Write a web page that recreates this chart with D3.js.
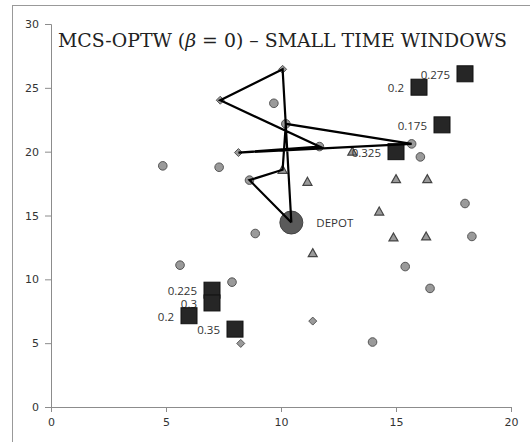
<!DOCTYPE html>
<html>
<head>
<script src="https://d3js.org/d3.v7.min.js"></script>
<style>
body { margin: 0; background: #fff; }
svg { display: block; }
</style>
</head>
<body>
<script>
// customers by marker type
var circleX = [4.86, 7.31, 9.69, 10.21, 11.67, 8.63, 15.68, 16.06, 8.88, 5.61, 7.87, 18.0, 18.3, 15.4, 16.48, 13.98];
var circleY = [18.89, 18.78, 23.79, 22.18, 20.4, 17.77, 20.61, 19.59, 13.59, 11.11, 9.78, 15.94, 13.36, 11.0, 9.29, 5.09];
var triX = [10.07, 11.15, 15.0, 16.36, 14.27, 14.89, 16.31, 11.38, 13.1];
var triY = [18.58, 17.64, 17.85, 17.85, 15.31, 13.28, 13.36, 12.05, 20.0];
var diaX = [10.07, 7.36, 8.15, 11.38, 8.25];
var diaY = [26.45, 24.03, 19.93, 6.73, 4.98];
var sqX = [18, 16, 17, 15, 7, 7, 6, 8];
var sqY = [26.1, 25.05, 22.1, 20, 9.15, 8.15, 7.15, 6.1];
var sqLabels = ["0.275", "0.2", "0.175", "0.325", "0.225", "0.3", "0.2", "0.35"];
var depot = [10.45, 14.45];
// route order
var routeX = [10.45, 10.07, 7.36, 11.67, 8.15, 15.68, 10.21, 10.07, 8.63, 10.45];
var routeY = [14.45, 26.45, 24.03, 20.4, 19.93, 20.61, 22.18, 18.58, 17.77, 14.45];
var xTicks = [0, 5, 10, 15, 20];
var yTicks = [0, 5, 10, 15, 20, 25, 30];

var width = 530, height = 442;
var svg = d3.select("body").append("svg").attr("width", width).attr("height", height);

// outer frame
svg.append("rect").attr("x", 12.5).attr("y", 5.5).attr("width", 540).attr("height", 460)
  .attr("fill", "none").attr("stroke", "#999").attr("stroke-width", 1);

var x = d3.scaleLinear().domain([0, 20]).range([51, 511]);
var y = d3.scaleLinear().domain([0, 30]).range([407, 24]);

var xAxis = svg.append("g").attr("transform", "translate(0," + y(0) + ")")
  .call(d3.axisBottom(x).tickValues(xTicks).tickSize(5).tickPadding(6));
var yAxis = svg.append("g").attr("transform", "translate(" + x(0) + ",0)")
  .call(d3.axisLeft(y).tickValues(yTicks).tickSize(6).tickPadding(6));
[xAxis, yAxis].forEach(function(a) {
  a.selectAll("path, line").attr("stroke", "#8c8c8c");
  a.selectAll("text").attr("fill", "#333").style("font-family", "DejaVu Sans")
    .style("font-size", "11px");
});

// title
svg.append("text").attr("x", 58).attr("y", 47)
  .attr("textLength", 449).attr("lengthAdjust", "spacingAndGlyphs")
  .style("font-family", "DejaVu Serif").style("font-size", "19px").attr("fill", "#222")
  .html('MCS-OPTW (<tspan font-style="italic">β</tspan> = 0) – SMALL TIME WINDOWS');

// depot
svg.append("circle").attr("cx", x(depot[0])).attr("cy", y(depot[1])).attr("r", 11.5)
  .attr("fill", "#5a5a5a").attr("stroke", "#444").attr("stroke-width", 1);
svg.append("text").attr("x", x(depot[0]) + 25).attr("y", y(depot[1]) + 4)
  .style("font-family", "Open Sans").style("font-size", "11.5px").attr("fill", "#333").text("DEPOT");

// circles
svg.selectAll(".cust").data(circleX).enter().append("circle")
  .attr("cx", function(d) { return x(d); })
  .attr("cy", function(d, i) { return y(circleY[i]); })
  .attr("r", 4.3).attr("fill", "#9a9a9a").attr("stroke", "#555").attr("stroke-width", 1);

// triangles
svg.selectAll(".tri").data(triX).enter().append("path")
  .attr("transform", function(d, i) { return "translate(" + x(d) + "," + y(triY[i]) + ")"; })
  .attr("d", "M0,-4.5L4.5,3.5L-4.5,3.5Z")
  .attr("fill", "#9a9a9a").attr("stroke", "#444").attr("stroke-width", 1.2);

// diamonds
svg.selectAll(".dia").data(diaX).enter().append("path")
  .attr("transform", function(d, i) { return "translate(" + x(d) + "," + y(diaY[i]) + ")"; })
  .attr("d", "M0,-4L4,0L0,4L-4,0Z")
  .attr("fill", "#9a9a9a").attr("stroke", "#555").attr("stroke-width", 1);

// squares with labels
var sq = 16;
svg.selectAll(".sqlab").data(sqLabels).enter().append("text")
  .attr("x", function(d, i) { return x(sqX[i]) - sq / 2 - 7; })
  .attr("y", function(d, i) { return y(sqY[i]) + 5; })
  .attr("text-anchor", "end")
  .style("font-family", "Open Sans").style("font-size", "11.5px").attr("fill", "#333")
  .text(function(d) { return d; });
svg.selectAll(".sq").data(sqX).enter().append("rect")
  .attr("x", function(d) { return x(d) - sq / 2; })
  .attr("y", function(d, i) { return y(sqY[i]) - sq / 2; })
  .attr("width", sq).attr("height", sq)
  .attr("fill", "#262626").attr("stroke", "#111").attr("stroke-width", 1);

// route
var line = d3.line().x(function(d) { return x(d); }).y(function(d, i) { return y(routeY[i]); });
svg.append("path").attr("d", line(routeX)).attr("fill", "none")
  .attr("stroke", "#000").attr("stroke-width", 2.2).attr("stroke-linejoin", "miter");
</script>
</body>
</html>
